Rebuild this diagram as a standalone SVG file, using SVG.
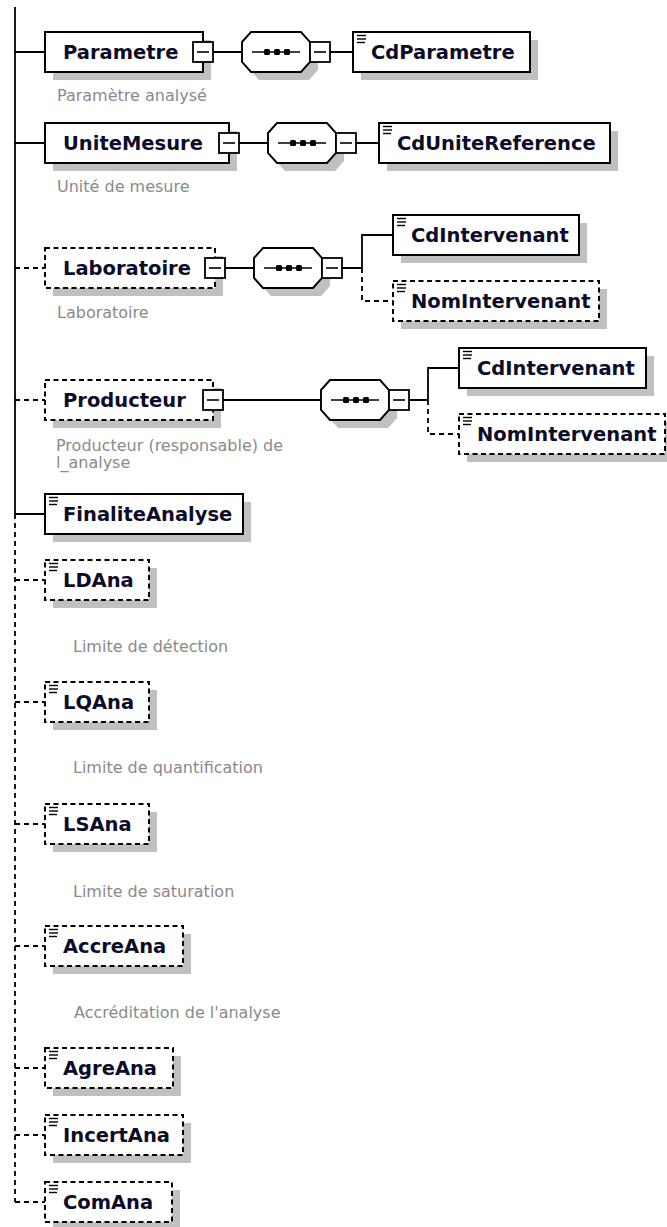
<svg xmlns="http://www.w3.org/2000/svg" xmlns:xlink="http://www.w3.org/1999/xlink" width="667" height="1227" viewBox="0 0 667 1227">
  <style>
    .shadow { fill: #c0c0c0; }
    .box { fill: #ffffff; stroke: #000000; stroke-width: 2; }
    .opt { stroke-dasharray: 5 3.5; }
    .ln { fill: none; stroke: #000000; stroke-width: 1.8; }
    .dash { stroke-dasharray: 5 4; }
    .t { font-family: "DejaVu Sans", "Liberation Sans", sans-serif; font-weight: bold; font-size: 19.5px; fill: #0c0c2a; }
    .d { font-family: "DejaVu Sans", "Liberation Sans", sans-serif; font-size: 16px; fill: #8a8a8a; }
  </style>
  <defs>
    <!-- expand/collapse button -->
    <g id="minus">
      <rect x="0" y="0" width="20" height="20" fill="#ffffff" stroke="#000000" stroke-width="1.8"/>
      <line x1="4" y1="10" x2="16" y2="10" stroke="#000000" stroke-width="1.6"/>
    </g>
    <!-- sequence compositor -->
    <g id="seq">
      <polygon class="shadow" points="8,18 17,8 67,8 76,18 76,38 67,48 17,48 8,38"/>
      <polygon points="0,10 9,0 59,0 68,10 68,30 59,40 9,40 0,30" fill="#ffffff" stroke="#000000" stroke-width="1.9"/>
      <line x1="10" y1="20" x2="58" y2="20" stroke="#000000" stroke-width="1.6"/>
      <rect x="22" y="17" width="6" height="6" rx="1.5" fill="#000000"/>
      <rect x="32" y="17" width="6" height="6" rx="1.5" fill="#000000"/>
      <rect x="42" y="17" width="6" height="6" rx="1.5" fill="#000000"/>
      <use xlink:href="#minus" href="#minus" x="68" y="10"/>
    </g>
    <!-- simple-content marker -->
    <g id="ico" stroke="#000000" stroke-width="1.4">
      <line x1="0" y1="0.5" x2="9" y2="0.5"/>
      <line x1="0" y1="4" x2="9" y2="4"/>
      <line x1="0" y1="7.5" x2="8" y2="7.5"/>
    </g>
  </defs>

  <g id="connectors">
    <path class="ln" d="M15 7 V514"/>
    <path class="ln dash" d="M15 514 V1202"/>
    <path class="ln" d="M15 52 H45 M15 143 H45 M15 514 H45"/>
    <path class="ln dash" d="M15 268 H45 M15 400 H45 M15 580 H45 M15 702 H45 M15 824 H45 M15 946 H45 M15 1068 H45 M15 1135 H45 M15 1202 H45"/>
    <path class="ln" d="M213 52 H242 M330 52 H353"/>
    <path class="ln" d="M239 143 H268 M356 143 H379"/>
    <path class="ln" d="M225 268 H254 M342 268 H362 V235 H393"/>
    <path class="ln dash" d="M362 268 V301 H393"/>
    <path class="ln" d="M223 400 H321 M409 400 H428 V368 H459"/>
    <path class="ln dash" d="M428 400 V434 H459"/>
  </g>

  <g id="Parametre">
    <rect class="shadow" x="53" y="40" width="158" height="40"/>
    <rect class="box" x="45" y="32" width="158" height="40"/>
    <text class="t" x="63" y="59">Parametre</text>
    <use xlink:href="#minus" href="#minus" x="193" y="42"/>
    <text class="d" x="57" y="101">Paramètre analysé</text>
  </g>
  <g id="Parametre-seq">
    <use xlink:href="#seq" href="#seq" x="242" y="32"/>
  </g>
  <g id="CdParametre">
    <rect class="shadow" x="361" y="40" width="177" height="40"/>
    <rect class="box" x="353" y="32" width="177" height="40"/>
    <use xlink:href="#ico" href="#ico" x="357" y="35"/>
    <text class="t" x="371" y="59">CdParametre</text>
  </g>

  <g id="UniteMesure">
    <rect class="shadow" x="53" y="131" width="184" height="40"/>
    <rect class="box" x="45" y="123" width="184" height="40"/>
    <text class="t" x="63" y="150">UniteMesure</text>
    <use xlink:href="#minus" href="#minus" x="219" y="133"/>
    <text class="d" x="57" y="192">Unité de mesure</text>
  </g>
  <g id="UniteMesure-seq">
    <use xlink:href="#seq" href="#seq" x="268" y="123"/>
  </g>
  <g id="CdUniteReference">
    <rect class="shadow" x="387" y="131" width="231" height="40"/>
    <rect class="box" x="379" y="123" width="231" height="40"/>
    <use xlink:href="#ico" href="#ico" x="383" y="126"/>
    <text class="t" x="397" y="150">CdUniteReference</text>
  </g>

  <g id="Laboratoire">
    <rect class="shadow" x="53" y="256" width="170" height="40"/>
    <rect class="box opt" x="45" y="248" width="170" height="40"/>
    <text class="t" x="63" y="275">Laboratoire</text>
    <use xlink:href="#minus" href="#minus" x="205" y="258"/>
    <text class="d" x="57" y="318">Laboratoire</text>
  </g>
  <g id="Laboratoire-seq">
    <use xlink:href="#seq" href="#seq" x="254" y="248"/>
  </g>
  <g id="Laboratoire-CdIntervenant">
    <rect class="shadow" x="401" y="223" width="186" height="40"/>
    <rect class="box" x="393" y="215" width="186" height="40"/>
    <use xlink:href="#ico" href="#ico" x="397" y="218"/>
    <text class="t" x="411" y="242">CdIntervenant</text>
  </g>
  <g id="Laboratoire-NomIntervenant">
    <rect class="shadow" x="401" y="289" width="206" height="40"/>
    <rect class="box opt" x="393" y="281" width="206" height="40"/>
    <use xlink:href="#ico" href="#ico" x="397" y="284"/>
    <text class="t" x="411" y="308">NomIntervenant</text>
  </g>

  <g id="Producteur">
    <rect class="shadow" x="53" y="388" width="168" height="40"/>
    <rect class="box opt" x="45" y="380" width="168" height="40"/>
    <text class="t" x="63" y="407">Producteur</text>
    <use xlink:href="#minus" href="#minus" x="203" y="390"/>
    <text class="d" x="56" y="451">Producteur (responsable) de</text>
    <text class="d" x="56" y="468">l_analyse</text>
  </g>
  <g id="Producteur-seq">
    <use xlink:href="#seq" href="#seq" x="321" y="380"/>
  </g>
  <g id="Producteur-CdIntervenant">
    <rect class="shadow" x="467" y="356" width="187" height="40"/>
    <rect class="box" x="459" y="348" width="187" height="40"/>
    <use xlink:href="#ico" href="#ico" x="463" y="351"/>
    <text class="t" x="477" y="375">CdIntervenant</text>
  </g>
  <g id="Producteur-NomIntervenant">
    <rect class="shadow" x="467" y="422" width="206" height="40"/>
    <rect class="box opt" x="459" y="414" width="206" height="40"/>
    <use xlink:href="#ico" href="#ico" x="463" y="417"/>
    <text class="t" x="477" y="441">NomIntervenant</text>
  </g>

  <g id="FinaliteAnalyse">
    <rect class="shadow" x="53" y="502" width="198" height="40"/>
    <rect class="box" x="45" y="494" width="198" height="40"/>
    <use xlink:href="#ico" href="#ico" x="49" y="497"/>
    <text class="t" x="63" y="521">FinaliteAnalyse</text>
  </g>

  <g id="LDAna">
    <rect class="shadow" x="53" y="568" width="104" height="40"/>
    <rect class="box opt" x="45" y="560" width="104" height="40"/>
    <use xlink:href="#ico" href="#ico" x="49" y="563"/>
    <text class="t" x="63" y="587">LDAna</text>
    <text class="d" x="73" y="652">Limite de détection</text>
  </g>

  <g id="LQAna">
    <rect class="shadow" x="53" y="690" width="104" height="40"/>
    <rect class="box opt" x="45" y="682" width="104" height="40"/>
    <use xlink:href="#ico" href="#ico" x="49" y="685"/>
    <text class="t" x="63" y="709">LQAna</text>
    <text class="d" x="73" y="773">Limite de quantification</text>
  </g>

  <g id="LSAna">
    <rect class="shadow" x="53" y="812" width="104" height="40"/>
    <rect class="box opt" x="45" y="804" width="104" height="40"/>
    <use xlink:href="#ico" href="#ico" x="49" y="807"/>
    <text class="t" x="63" y="831">LSAna</text>
    <text class="d" x="73" y="897">Limite de saturation</text>
  </g>

  <g id="AccreAna">
    <rect class="shadow" x="53" y="934" width="138" height="40"/>
    <rect class="box opt" x="45" y="926" width="138" height="40"/>
    <use xlink:href="#ico" href="#ico" x="49" y="929"/>
    <text class="t" x="63" y="953">AccreAna</text>
    <text class="d" x="74" y="1018">Accréditation de l'analyse</text>
  </g>

  <g id="AgreAna">
    <rect class="shadow" x="53" y="1056" width="128" height="40"/>
    <rect class="box opt" x="45" y="1048" width="128" height="40"/>
    <use xlink:href="#ico" href="#ico" x="49" y="1051"/>
    <text class="t" x="63" y="1075">AgreAna</text>
  </g>

  <g id="IncertAna">
    <rect class="shadow" x="53" y="1123" width="138" height="40"/>
    <rect class="box opt" x="45" y="1115" width="138" height="40"/>
    <use xlink:href="#ico" href="#ico" x="49" y="1118"/>
    <text class="t" x="63" y="1142">IncertAna</text>
  </g>

  <g id="ComAna">
    <rect class="shadow" x="53" y="1190" width="127" height="40"/>
    <rect class="box opt" x="45" y="1182" width="127" height="40"/>
    <use xlink:href="#ico" href="#ico" x="49" y="1185"/>
    <text class="t" x="63" y="1209">ComAna</text>
  </g>
</svg>
